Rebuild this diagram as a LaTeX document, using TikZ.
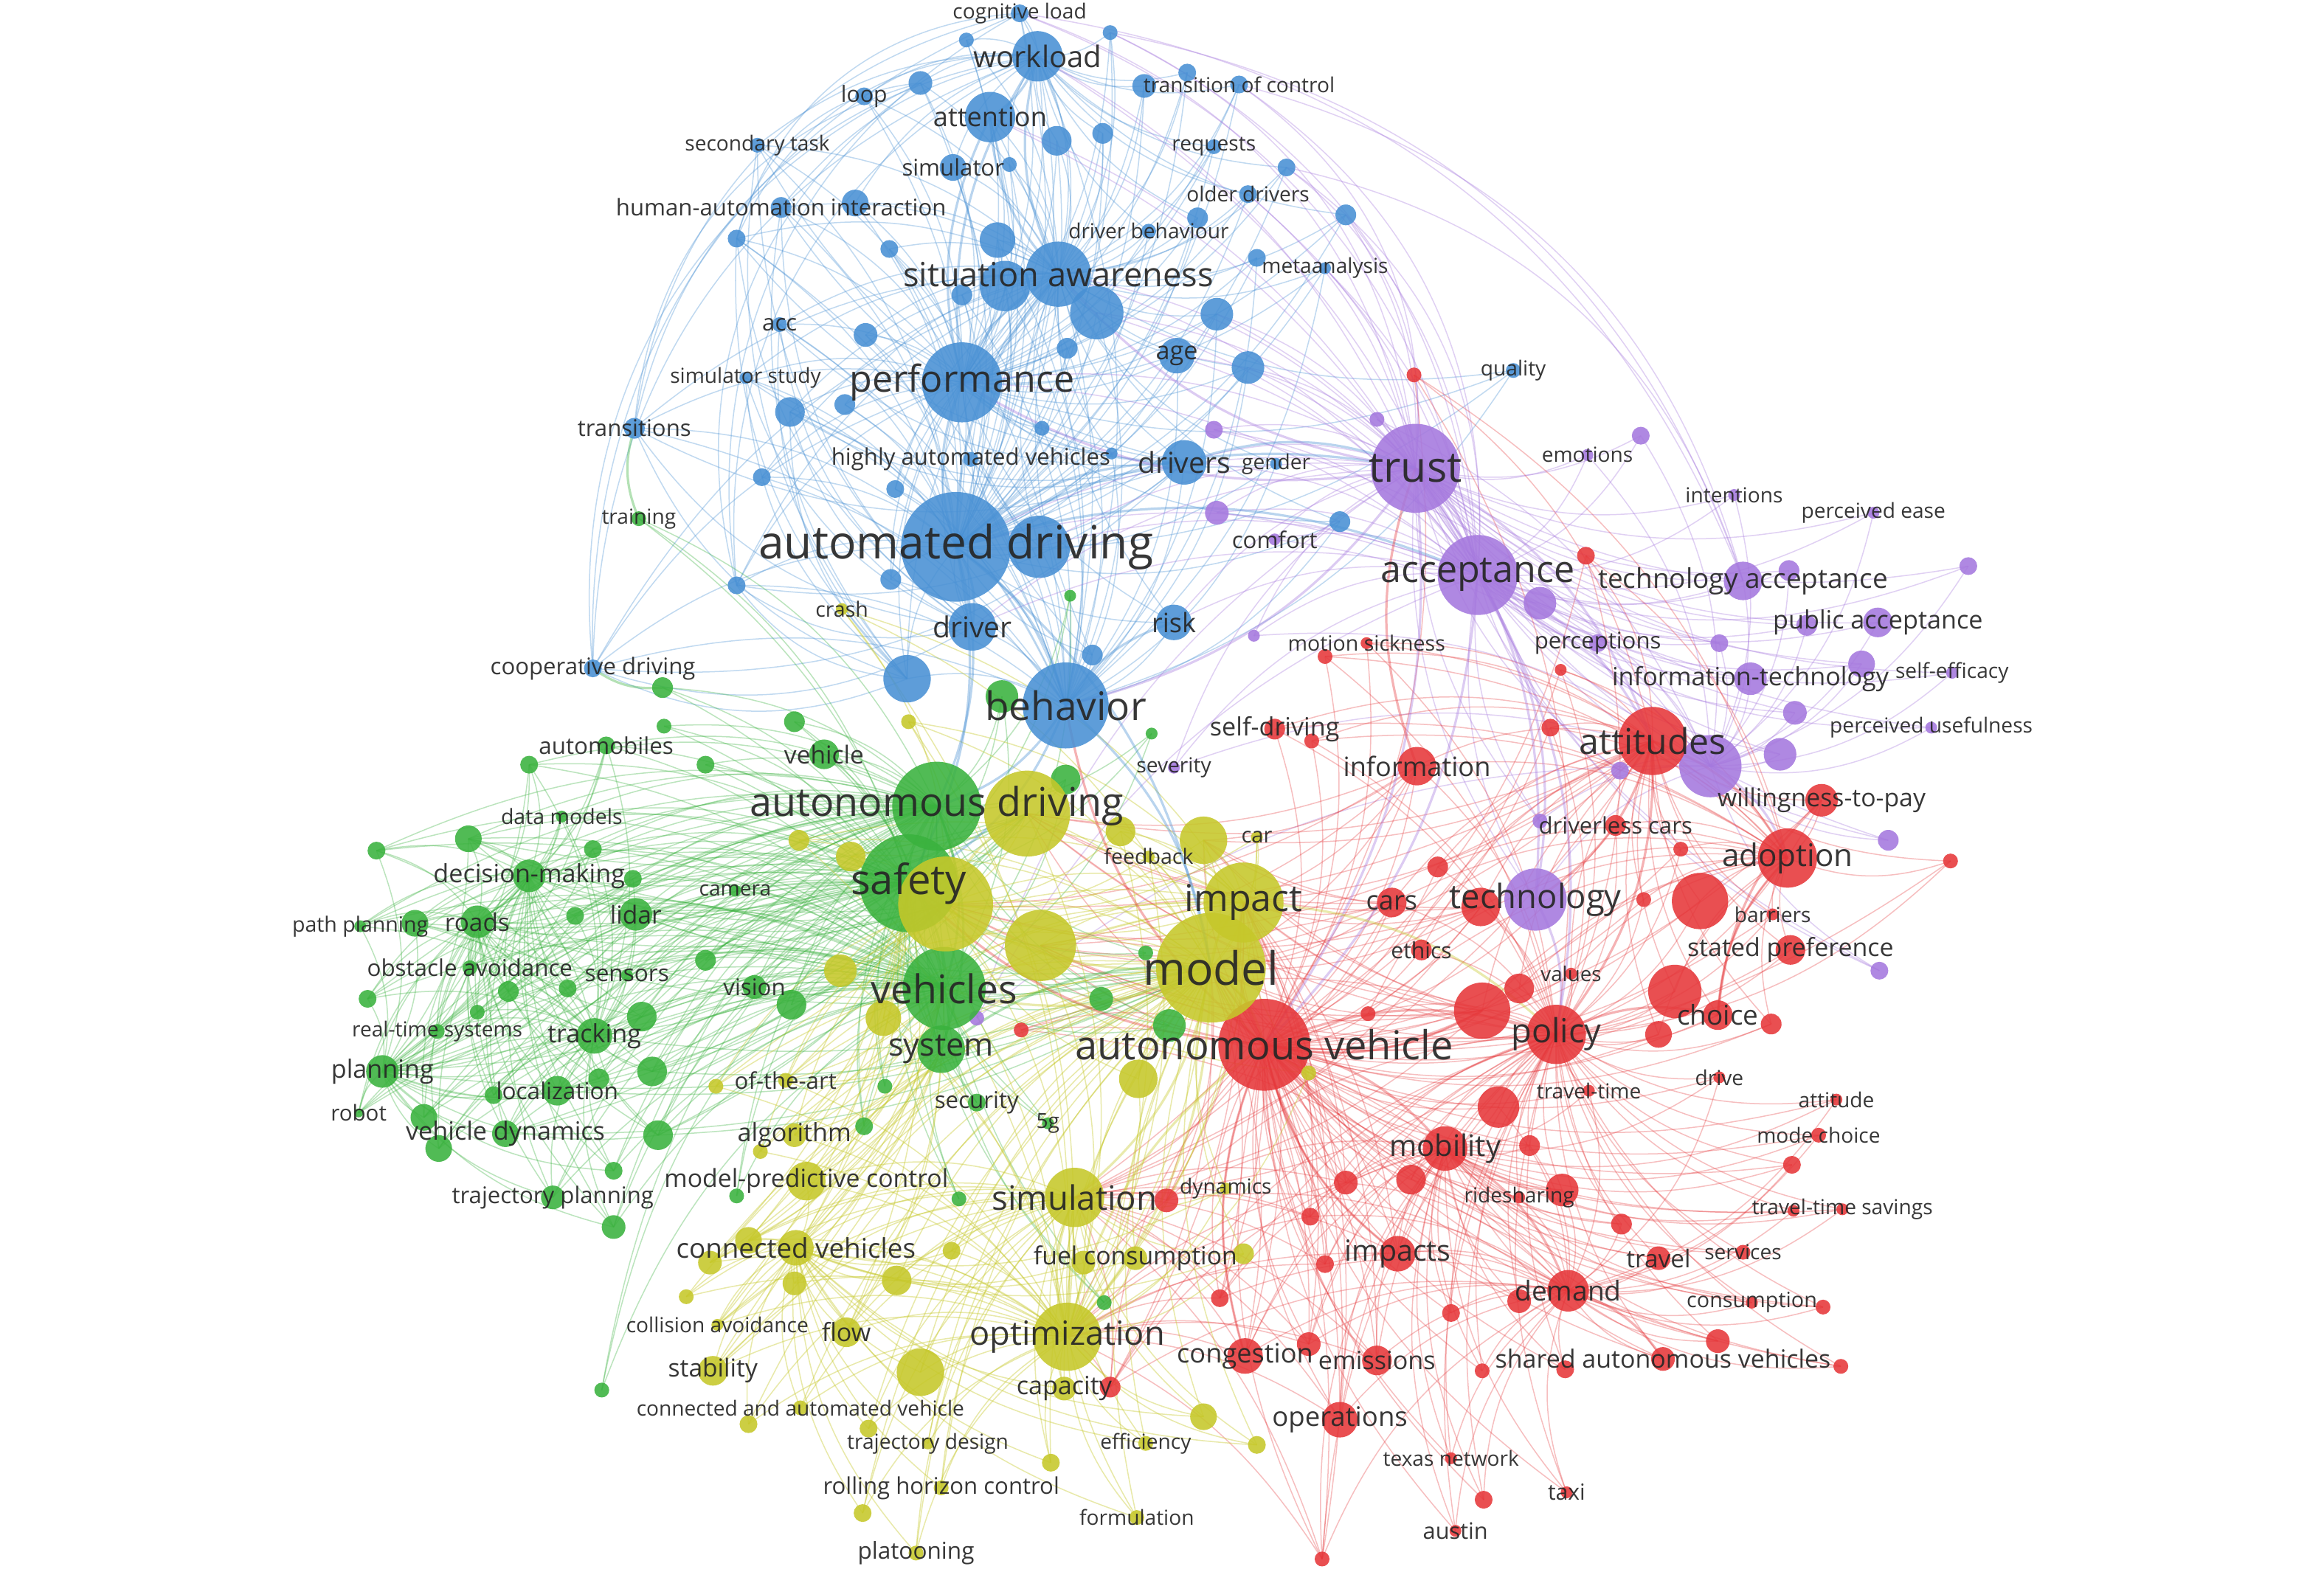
\documentclass[tikz,border=0pt]{standalone}
\usepackage{fontspec}
\setmainfont{Open Sans}
\pgfdeclarelayer{bg}\pgfdeclarelayer{edges}\pgfdeclarelayer{lab}
\pgfsetlayers{bg,edges,main,lab}
\definecolor{cB}{RGB}{72,144,212}
\definecolor{cP}{RGB}{165,120,222}
\definecolor{cR}{RGB}{230,55,58}
\definecolor{cG}{RGB}{58,178,62}
\definecolor{cY}{RGB}{198,200,42}
\definecolor{lbl}{RGB}{38,38,38}
\tikzset{
 kw/.style={circle,inner sep=0pt,draw=none,fill opacity=.88},
 kwl/.style={inner sep=0pt,text=lbl,text opacity=.92},
 eB/.style={draw=cB,draw opacity=.34,line width=.75pt},
 eP/.style={draw=cP,draw opacity=.34,line width=.75pt},
 eR/.style={draw=cR,draw opacity=.32,line width=.75pt},
 eG/.style={draw=cG,draw opacity=.34,line width=.75pt},
 eY/.style={draw=cY,draw opacity=.40,line width=.75pt},
 hub/.style={line width=1.6pt,draw opacity=.38}
}
\newcommand\vn[5]{\node[kw,fill=#5,minimum size={2*#4pt}] (#1) at (#2,#3) {};}
\newcommand\vl[3]{\begin{pgfonlayer}{lab}\node[kwl,font=\fontsize{#2}{#2}\selectfont] (#1lab) at (#1) {#3};\end{pgfonlayer}}
\begin{document}
\begin{tikzpicture}[x=1pt,y=-1pt]
\begin{pgfonlayer}{bg}\fill[white] (0,0) rectangle (1568,1070);\end{pgfonlayer}
\useasboundingbox (0,0) rectangle (1568,1070);
% ---------------- BLUE
\vn{cogload}{688}{9}{6}{cB}
\vn{bA}{652}{27}{5}{cB}
\vn{bB}{749}{22}{5}{cB}
\vn{workload}{700}{38}{17}{cB}
\vn{bC}{621}{56}{8}{cB}
\vn{loop}{583}{65}{6}{cB}
\vn{bD}{801}{49}{6}{cB}
\vn{tcA}{772}{58}{8}{cB}
\vn{tctrl}{836}{57}{6}{cB}
\vn{attention}{668}{79}{17}{cB}
\vn{bE}{713}{95}{10}{cB}
\vn{bF}{744}{90}{7}{cB}
\vn{sectask}{511}{98}{5}{cB}
\vn{requests}{819}{99}{5}{cB}
\vn{simulator}{643}{113}{9}{cB}
\vn{bG}{681}{111}{5}{cB}
\vn{bH}{868}{113}{6}{cB}
\vn{hai}{527}{140}{7}{cB}
\vn{bI}{577}{137}{9}{cB}
\vn{olderdr}{842}{131}{6}{cB}
\vn{bJ}{908}{145}{7}{cB}
\vn{drvbeh}{775}{156}{5}{cB}
\vn{bK}{808}{147}{7}{cB}
\vn{bL}{497}{161}{6}{cB}
\vn{bM}{600}{168}{6}{cB}
\vn{saA}{673}{162}{12}{cB}
\vn{saB}{678}{193}{17}{cB}
\vn{sitaw}{714}{185}{22}{cB}
\vn{saC}{740}{211}{18}{cB}
\vn{bN}{649}{199}{7}{cB}
\vn{bO}{848}{174}{6}{cB}
\vn{meta}{894}{181}{4}{cB}
\vn{bP}{821}{212}{11}{cB}
\vn{acc}{526}{219}{5}{cB}
\vn{bQ}{584}{226}{8}{cB}
\vn{bR}{720}{235}{7}{cB}
\vn{age}{794}{240}{12}{cB}
\vn{bS}{842}{248}{11}{cB}
\vn{perf}{649}{258}{27}{cB}
\vn{simstudy}{503}{255}{4}{cB}
\vn{bT}{533}{278}{10}{cB}
\vn{bU}{570}{273}{7}{cB}
\vn{transitions}{428}{289}{7}{cB}
\vn{bV}{703}{289}{5}{cB}
\vn{hav}{655}{310}{5}{cB}
\vn{bW}{750}{306}{4}{cB}
\vn{drivers}{799}{312}{15}{cB}
\vn{gender}{861}{313}{4}{cB}
\vn{quality}{1021}{250}{5}{cB}
\vn{bY}{514}{322}{6}{cB}
\vn{bZ}{604}{330}{6}{cB}
\vn{autdrv}{645}{369}{37}{cB}
\vn{adB}{701}{369}{21}{cB}
\vn{ba1}{601}{391}{7}{cB}
\vn{ba2}{497}{395}{6}{cB}
\vn{driver}{656}{423}{16}{cB}
\vn{risk}{792}{420}{12}{cB}
\vn{ba3}{737}{442}{7}{cB}
\vn{coopdr}{400}{451}{6}{cB}
\vn{ba4}{612}{458}{16}{cB}
\vn{behavior}{719}{476}{29}{cB}
\vn{ba5}{904}{352}{7}{cB}
% ---------------- PURPLE
\vn{trust}{955}{316}{30}{cP}
\vn{acceptance}{997}{388}{27}{cP}
\vn{technology}{1036}{607}{21}{cP}
\vn{pA}{929}{283}{5}{cP}
\vn{pB}{819}{290}{6}{cP}
\vn{emotions}{1071}{307}{4}{cP}
\vn{pC}{1107}{294}{6}{cP}
\vn{pD}{821}{346}{8}{cP}
\vn{comfort}{860}{364}{4}{cP}
\vn{intentions}{1170}{334}{4}{cP}
\vn{percease}{1264}{346}{4}{cP}
\vn{pE}{1039}{407}{11}{cP}
\vn{techacc}{1176}{392}{13}{cP}
\vn{pF}{1207}{385}{7}{cP}
\vn{pG}{1328}{382}{6}{cP}
\vn{pubacc}{1267}{420}{10}{cP}
\vn{pH}{1219}{422}{7}{cP}
\vn{pI}{846}{429}{4}{cP}
\vn{perceptions}{1078}{434}{6}{cP}
\vn{pJ}{1160}{434}{6}{cP}
\vn{infotech}{1181}{458}{11}{cP}
\vn{pK}{1256}{448}{9}{cP}
\vn{selfeff}{1317}{454}{4}{cP}
\vn{pL}{1211}{481}{8}{cP}
\vn{percuse}{1303}{491}{4}{cP}
\vn{pM}{1201}{509}{11}{cP}
\vn{attP}{1154}{517}{21}{cP}
\vn{pN}{1093}{520}{6}{cP}
\vn{severity}{792}{518}{4}{cP}
\vn{pO}{1039}{554}{5}{cP}
\vn{pP}{1274}{567}{7}{cP}
\vn{pQ}{1268}{655}{6}{cP}
\vn{pR}{659}{687}{5}{cP}
% ---------------- RED
\vn{rq}{954}{253}{5}{cR}
\vn{rA}{1070}{375}{6}{cR}
\vn{motsick}{922}{434}{4}{cR}
\vn{rmot}{894}{443}{5}{cR}
\vn{rB}{1053}{452}{4}{cR}
\vn{selfdrv}{860}{492}{7}{cR}
\vn{rC}{885}{500}{5}{cR}
\vn{rD}{1046}{491}{6}{cR}
\vn{attitudes}{1115}{500}{23}{cR}
\vn{information}{956}{517}{13}{cR}
\vn{wtp}{1229}{540}{11}{cR}
\vn{drvless}{1090}{557}{7}{cR}
\vn{rE}{1134}{573}{5}{cR}
\vn{rF}{970}{585}{7}{cR}
\vn{adoption}{1206}{579}{20}{cR}
\vn{rG}{1316}{581}{5}{cR}
\vn{cars}{939}{609}{10}{cR}
\vn{techR}{999}{612}{13}{cR}
\vn{rH}{1109}{607}{5}{cR}
\vn{rI}{1147}{608}{19}{cR}
\vn{barriers}{1196}{617}{4}{cR}
\vn{ethics}{959}{641}{7}{cR}
\vn{statedpref}{1208}{641}{10}{cR}
\vn{values}{1060}{657}{4}{cR}
\vn{rJ}{1025}{667}{10}{cR}
\vn{rK}{1000}{682}{19}{cR}
\vn{policy}{1050}{698}{20}{cR}
\vn{rL}{1130}{669}{18}{cR}
\vn{choice}{1159}{685}{10}{cR}
\vn{rM}{1119}{698}{9}{cR}
\vn{rN}{1195}{691}{7}{cR}
\vn{rO}{923}{684}{5}{cR}
\vn{autveh}{853}{705}{31}{cR}
\vn{rP}{689}{695}{5}{cR}
\vn{travtime}{1072}{736}{4}{cR}
\vn{drive}{1160}{727}{4}{cR}
\vn{attitude}{1239}{742}{4}{cR}
\vn{rQ}{1011}{747}{14}{cR}
\vn{mobility}{975}{775}{15}{cR}
\vn{rR}{1032}{773}{7}{cR}
\vn{modechoice}{1227}{766}{5}{cR}
\vn{rS}{1209}{786}{6}{cR}
\vn{rT}{952}{796}{10}{cR}
\vn{rU}{908}{798}{8}{cR}
\vn{rV}{787}{810}{8}{cR}
\vn{ridesharing}{1025}{808}{4}{cR}
\vn{rc}{1054}{803}{11}{cR}
\vn{rW}{1094}{826}{7}{cR}
\vn{tts}{1243}{816}{4}{cR}
\vn{rb}{1210}{817}{4}{cR}
\vn{rX}{884}{821}{6}{cR}
\vn{travel}{1119}{849}{8}{cR}
\vn{services}{1176}{845}{5}{cR}
\vn{impacts}{943}{846}{12}{cR}
\vn{rY}{894}{853}{6}{cR}
\vn{demand}{1058}{871}{14}{cR}
\vn{rZ}{1025}{878}{8}{cR}
\vn{consumption}{1182}{879}{4}{cR}
\vn{ra1}{1230}{882}{5}{cR}
\vn{ra2}{823}{876}{6}{cR}
\vn{ra3}{979}{886}{6}{cR}
\vn{ra4}{1159}{905}{8}{cR}
\vn{congestion}{840}{915}{12}{cR}
\vn{ra5}{883}{907}{8}{cR}
\vn{emissions}{929}{918}{10}{cR}
\vn{sav}{1122}{917}{8}{cR}
\vn{ra6}{1056}{924}{6}{cR}
\vn{ra7}{1000}{925}{5}{cR}
\vn{ra8}{1242}{922}{5}{cR}
\vn{capR}{749}{936}{7}{cR}
\vn{operations}{904}{958}{12}{cR}
\vn{texas}{979}{984}{4}{cR}
\vn{ra9}{1001}{1012}{6}{cR}
\vn{taxi}{1057}{1007}{4}{cR}
\vn{austin}{982}{1033}{4}{cR}
\vn{ra10}{892}{1052}{5}{cR}
% ---------------- GREEN
\vn{training}{431}{350}{5}{cG}
\vn{ga1}{722}{402}{4}{cG}
\vn{ga2}{447}{464}{7}{cG}
\vn{ga3}{676}{470}{11}{cG}
\vn{ga4}{536}{487}{7}{cG}
\vn{ga5}{448}{490}{5}{cG}
\vn{ga6}{777}{495}{4}{cG}
\vn{automobiles}{409}{503}{6}{cG}
\vn{vehicle}{556}{509}{10}{cG}
\vn{ga7}{357}{516}{6}{cG}
\vn{ga8}{476}{516}{6}{cG}
\vn{ga9}{719}{526}{10}{cG}
\vn{autdriving}{632}{544}{30}{cG}
\vn{datamodels}{379}{551}{4}{cG}
\vn{ga10}{316}{566}{9}{cG}
\vn{ga11}{254}{574}{6}{cG}
\vn{ga12}{400}{573}{6}{cG}
\vn{decmak}{357}{591}{11}{cG}
\vn{ga13}{427}{593}{6}{cG}
\vn{camera}{496}{601}{4}{cG}
\vn{safety}{613}{596}{33}{cG}
\vn{pathpl}{243}{625}{4}{cG}
\vn{ga14}{280}{623}{9}{cG}
\vn{roads}{322}{622}{11}{cG}
\vn{ga15}{388}{618}{6}{cG}
\vn{lidar}{429}{617}{11}{cG}
\vn{ga16}{476}{648}{7}{cG}
\vn{ga17}{773}{643}{5}{cG}
\vn{obstav}{317}{653}{5}{cG}
\vn{sensors}{423}{658}{4}{cG}
\vn{ga18}{248}{674}{6}{cG}
\vn{ga19}{343}{669}{7}{cG}
\vn{ga20}{383}{667}{6}{cG}
\vn{vision}{509}{666}{8}{cG}
\vn{vehicles}{637}{667}{28}{cG}
\vn{ga21}{743}{674}{8}{cG}
\vn{ga22}{534}{678}{10}{cG}
\vn{ga23}{322}{683}{5}{cG}
\vn{ga24}{433}{686}{10}{cG}
\vn{rts}{295}{696}{5}{cG}
\vn{tracking}{401}{699}{12}{cG}
\vn{ga25}{789}{692}{11}{cG}
\vn{system}{635}{708}{16}{cG}
\vn{planning}{258}{723}{11}{cG}
\vn{ga26}{440}{723}{10}{cG}
\vn{ga27}{404}{728}{7}{cG}
\vn{localization}{376}{736}{10}{cG}
\vn{ga28}{333}{739}{6}{cG}
\vn{ga29}{597}{733}{5}{cG}
\vn{security}{659}{744}{6}{cG}
\vn{robot}{242}{751}{3}{cG}
\vn{vdyn}{341}{765}{9}{cG}
\vn{ga30}{286}{754}{9}{cG}
\vn{ga31}{296}{775}{9}{cG}
\vn{ga32}{444}{766}{10}{cG}
\vn{ga33}{583}{760}{6}{cG}
\vn{g5g}{707}{758}{4}{cG}
\vn{ga34}{414}{790}{6}{cG}
\vn{ga35}{497}{807}{5}{cG}
\vn{trajpl}{373}{808}{8}{cG}
\vn{ga36}{647}{809}{5}{cG}
\vn{ga37}{414}{828}{8}{cG}
\vn{ga38}{745}{879}{5}{cG}
\vn{ga39}{406}{938}{5}{cG}
% ---------------- YELLOW
\vn{crash}{568}{411}{4}{cY}
\vn{ya1}{613}{487}{5}{cY}
\vn{autdY}{693}{549}{29}{cY}
\vn{ya2}{539}{567}{7}{cY}
\vn{ya3}{574}{578}{10}{cY}
\vn{ya4}{756}{561}{10}{cY}
\vn{ya5}{812}{567}{16}{cY}
\vn{car}{848}{565}{4}{cY}
\vn{feedback}{775}{578}{4}{cY}
\vn{safY}{638}{610}{32}{cY}
\vn{ya6}{702}{638}{24}{cY}
\vn{impact}{839}{609}{27}{cY}
\vn{ya7}{567}{655}{11}{cY}
\vn{model}{817}{653}{37}{cY}
\vn{ya8}{596}{687}{12}{cY}
\vn{ofart}{530}{729}{5}{cY}
\vn{ya9}{483}{733}{5}{cY}
\vn{ya10}{768}{728}{13}{cY}
\vn{ya11}{883}{724}{5}{cY}
\vn{algorithm}{536}{766}{8}{cY}
\vn{ya12}{513}{777}{5}{cY}
\vn{mpc}{544}{797}{13}{cY}
\vn{simulation}{725}{808}{20}{cY}
\vn{dynamics}{827}{802}{4}{cY}
\vn{cv}{537}{842}{12}{cY}
\vn{ya13}{505}{837}{9}{cY}
\vn{ya14}{479}{852}{8}{cY}
\vn{ya15}{642}{844}{6}{cY}
\vn{ya16}{536}{866}{8}{cY}
\vn{ya17}{605}{864}{10}{cY}
\vn{fuelc}{766}{849}{8}{cY}
\vn{ya18}{731}{852}{8}{cY}
\vn{ya19}{839}{846}{7}{cY}
\vn{ya20}{463}{875}{5}{cY}
\vn{collav}{484}{894}{4}{cY}
\vn{flow}{571}{899}{10}{cY}
\vn{optim}{720}{902}{23}{cY}
\vn{ya21}{621}{926}{16}{cY}
\vn{stability}{481}{925}{10}{cY}
\vn{capacity}{718}{937}{8}{cY}
\vn{cav}{540}{950}{5}{cY}
\vn{ya22}{812}{956}{9}{cY}
\vn{ya23}{505}{961}{6}{cY}
\vn{ya24}{586}{964}{6}{cY}
\vn{ya25}{848}{975}{6}{cY}
\vn{trajdes}{626}{974}{4}{cY}
\vn{efficiency}{773}{974}{5}{cY}
\vn{ya26}{709}{987}{6}{cY}
\vn{rhc}{635}{1004}{5}{cY}
\vn{ya27}{582}{1021}{6}{cY}
\vn{formulation}{767}{1024}{5}{cY}
\vn{platooning}{618}{1048}{5}{cY}
% ---------------- EDGES
\begin{pgfonlayer}{edges}
\foreach \m in {cogload,bA,bB,bC,loop,bD,tcA,tctrl,bE,bF,sectask,requests,simulator,bG,bH,olderdr,bJ,hai,bI,drvbeh,bK}
  \foreach \h in {workload,sitaw,perf,autdrv}
    \draw[eB] (\m.center) to[bend left=20] (\h.center);
\foreach \m in {bL,bM,saA,saB,saC,bN,bO,meta,bP,acc,bQ,bR,age,bS,simstudy,bT,bU,transitions,bV,hav,bW,gender,quality,bY,bZ,adB,ba1,ba2,driver,risk,ba3,coopdr,ba4,ba5,drivers,workload,attention}
  \foreach \h in {autdrv,perf,sitaw,behavior}
    \draw[eB] (\m.center) to[bend left=20] (\h.center);
\foreach \m in {transitions,coopdr,ba2,hai,sectask,bL,acc,simstudy,bT}
  \foreach \h in {driver,ba4,drivers}
    \draw[eB] (\m.center) to[bend right=24] (\h.center);
\foreach \m in {transitions,coopdr,bL,ba2}
  \foreach \h in {workload,cogload,bC}
    \draw[eB] (\m.center) to[bend left=35] (\h.center);
\foreach \m in {pA,pB,emotions,pC,pD,comfort,intentions,percease,pE,techacc,pF,pG,pubacc,pH,pI,perceptions,pJ,infotech,pK,selfeff,pL,percuse,pM,pN,severity,pO,pP,pQ,pR,technology}
  \foreach \h in {trust,acceptance,attP}
    \draw[eP] (\m.center) to[bend left=20] (\h.center);
\foreach \m in {trust,acceptance}
  \foreach \h in {sitaw,perf,workload,attention,saC,bP,age,bS,drivers,risk,autdrv,adB,driver,meta,olderdr,bJ}
    \draw[eP] (\m.center) to[bend right=18] (\h.center);
\foreach \m in {trust,acceptance,techacc}
  \foreach \h in {cogload,bB,tctrl,bH}
    \draw[eP] (\m.center) to[bend right=30] (\h.center);
\foreach \m in {rq,rA,motsick,rmot,rB,selfdrv,rC,rD,information,wtp,drvless,rE,rF,rG,cars,techR,rH,rI,barriers,ethics,statedpref,values,rJ,rK,rL,choice,rM,rN,rO}
  \foreach \h in {autveh,attitudes,policy,adoption}
    \draw[eR] (\m.center) to[bend left=20] (\h.center);
\foreach \m in {rP,travtime,drive,attitude,rQ,rR,modechoice,rS,rT,rU,rV,ridesharing,rc,rW,tts,rb,rX,travel,services,impacts,rY,rZ,consumption,ra1,ra2,ra3,ra4,congestion,ra5,emissions,sav,ra6,ra7,ra8,capR,operations,texas,ra9,taxi,austin,ra10}
  \foreach \h in {autveh,policy,demand,mobility}
    \draw[eR] (\m.center) to[bend left=20] (\h.center);
\foreach \m in {congestion,emissions,operations,capR,rV,ra2,impacts,rX,rU,ra5,rY,ra10}
  \foreach \h in {optim,simulation,model,impact}
    \draw[eR] (\m.center) to[bend right=16] (\h.center);
\foreach \m in {autveh,policy,rK,cars,techR,information,attitudes}
  \foreach \h in {model,impact,safY,autdY,simulation,ya5,ya6}
    \draw[eR] (\m.center) to[bend left=16] (\h.center);
\foreach \m in {training,ga1,ga2,ga3,ga4,ga5,ga6,automobiles,vehicle,ga7,ga8,ga9,datamodels,ga10,ga11,ga12,decmak,ga13,camera,pathpl,ga14,roads,ga15,lidar,ga16,ga17,obstav,sensors,ga18,ga19,ga20,vision,ga21,ga22,ga23,ga24,rts,tracking,ga25,system,planning,ga26,ga27,localization,ga28,ga29,security,robot,vdyn,ga30,ga31,ga32,ga33,g5g,ga34,ga35,trajpl,ga36,ga37,ga38,ga39}
  \foreach \h in {autdriving,safety,vehicles}
    \draw[eG] (\m.center) to[bend left=20] (\h.center);
\foreach \m in {ga7,ga10,ga11,ga12,datamodels,ga13,pathpl,ga14,ga15,lidar,obstav,sensors,ga18,ga19,ga20,ga23,ga24,rts,ga26,ga27,localization,ga28,robot,vdyn,ga30,ga31,ga32,ga34,trajpl,ga37,automobiles}
  \foreach \h in {roads,planning,decmak,tracking}
    \draw[eG] (\m.center) to[bend left=20] (\h.center);
\foreach \m in {ga10,decmak,roads,lidar,ga14,planning,tracking,vdyn,ga32,ga26,localization}
  \foreach \h in {safY,autdY,model}
    \draw[eG] (\m.center) to[bend right=14] (\h.center);
\foreach \m in {crash,ya1,autdY,ya2,ya3,ya4,ya5,car,feedback,safY,ya6,ya7,ya8,ofart,ya9,ya10,ya11,algorithm,ya12,impact}
  \foreach \h in {model,impact,safY,optim}
    \draw[eY] (\m.center) to[bend left=20] (\h.center);
\foreach \m in {mpc,dynamics,cv,ya13,ya14,ya15,ya16,ya17,fuelc,ya18,ya19,ya20,collav,flow,ya21,stability,capacity,cav,ya22,ya23,ya24,ya25,trajdes,efficiency,ya26,rhc,ya27,formulation,platooning}
  \foreach \h in {model,optim,simulation,cv}
    \draw[eY] (\m.center) to[bend left=20] (\h.center);
\foreach \m in {mpc,cv,ya13,ya14,stability,flow,collav,algorithm,ofart}
  \foreach \h in {safety,vehicles,system}
    \draw[eY] (\m.center) to[bend right=16] (\h.center);
\foreach \a/\b in {autdrv/perf,autdrv/sitaw,autdrv/behavior,autdrv/driver,autdrv/drivers,autdrv/trust,autdrv/acceptance,autdrv/autdriving,autdrv/safety,autdrv/model,perf/sitaw,perf/workload,perf/attention,sitaw/workload,sitaw/attention,workload/attention,behavior/safety,behavior/model,behavior/autdriving,behavior/risk,drivers/trust}
  \draw[eB,hub] (\a.center) to[bend left=20] (\b.center);
\foreach \a/\b in {trust/acceptance,trust/attitudes,trust/technology,trust/autveh,trust/behavior,acceptance/attitudes,acceptance/technology,acceptance/policy,acceptance/autveh,attP/adoption,technology/policy,trust/sitaw,trust/perf}
  \draw[eP,hub] (\a.center) to[bend left=20] (\b.center);
\foreach \a/\b in {attitudes/adoption,attitudes/policy,attitudes/technology,autveh/policy,autveh/mobility,autveh/impact,autveh/safety,policy/choice,choice/adoption,choice/wtp,mobility/demand,demand/sav,impacts/autveh,congestion/autveh,rK/autveh,information/trust,autveh/behavior}
  \draw[eR,hub] (\a.center) to[bend left=20] (\b.center);
\foreach \a/\b in {model/impact,model/safety,model/simulation,model/optim,model/autveh,impact/policy,safY/autdY,optim/simulation,optim/autveh,model/vehicles}
  \draw[eY,hub] (\a.center) to[bend left=20] (\b.center);
\foreach \a/\b in {safety/vehicles,safety/autdriving,autdriving/vehicles,autdriving/system,vehicles/system,system/model,training/transitions,ga2/coopdr}
  \draw[eG,hub] (\a.center) to[bend left=20] (\b.center);
\end{pgfonlayer}
% ---------------- LABELS
\vl{cogload}{14}{cognitive load}
\vl{workload}{20}{workload}
\vl{loop}{15}{loop}
\vl{tctrl}{14}{transition of control}
\vl{attention}{18}{attention}
\vl{sectask}{14}{secondary task}
\vl{requests}{14}{requests}
\vl{simulator}{15.5}{simulator}
\vl{hai}{15.5}{human-automation interaction}
\vl{olderdr}{14}{older drivers}
\vl{drvbeh}{14}{driver behaviour}
\vl{sitaw}{22.5}{situation awareness}
\vl{meta}{14}{metaanalysis}
\vl{acc}{15.5}{acc}
\vl{age}{17}{age}
\vl{perf}{25}{performance}
\vl{simstudy}{14}{simulator study}
\vl{transitions}{15.5}{transitions}
\vl{hav}{15.5}{highly automated vehicles}
\vl{drivers}{19.5}{drivers}
\vl{gender}{14}{gender}
\vl{quality}{14}{quality}
\vl{autdrv}{31}{automated driving}
\vl{driver}{19.5}{driver}
\vl{risk}{18}{risk}
\vl{coopdr}{15.5}{cooperative driving}
\vl{behavior}{26.5}{behavior}
\vl{trust}{28.5}{trust}
\vl{emotions}{14}{emotions}
\vl{comfort}{15.5}{comfort}
\vl{intentions}{14}{intentions}
\vl{percease}{14}{perceived ease}
\vl{acceptance}{25}{acceptance}
\vl{techacc}{18.4}{technology acceptance}
\vl{pubacc}{17}{public acceptance}
\vl{perceptions}{15.5}{perceptions}
\vl{infotech}{17}{information-technology}
\vl{selfeff}{14}{self-efficacy}
\vl{percuse}{14}{perceived usefulness}
\vl{severity}{14}{severity}
\vl{motsick}{14.2}{motion sickness}
\vl{selfdrv}{17}{self-driving}
\vl{attitudes}{24}{attitudes}
\vl{information}{18}{information}
\vl{wtp}{16.8}{willingness-to-pay}
\vl{drvless}{15.5}{driverless cars}
\vl{adoption}{21}{adoption}
\vl{cars}{18}{cars}
\vl{technology}{22.6}{technology}
\vl{barriers}{14}{barriers}
\vl{ethics}{15}{ethics}
\vl{statedpref}{16.9}{stated preference}
\vl{values}{13.8}{values}
\vl{policy}{22.5}{policy}
\vl{choice}{18.4}{choice}
\vl{autveh}{27}{autonomous vehicle}
\vl{travtime}{14}{travel-time}
\vl{drive}{14}{drive}
\vl{attitude}{14}{attitude}
\vl{mobility}{20}{mobility}
\vl{modechoice}{14}{mode choice}
\vl{ridesharing}{14}{ridesharing}
\vl{tts}{14}{travel-time savings}
\vl{travel}{16.6}{travel}
\vl{services}{14}{services}
\vl{impacts}{19.6}{impacts}
\vl{demand}{18.5}{demand}
\vl{consumption}{14.3}{consumption}
\vl{congestion}{18}{congestion}
\vl{emissions}{17}{emissions}
\vl{sav}{16.9}{shared autonomous vehicles}
\vl{operations}{18.2}{operations}
\vl{texas}{14}{texas network}
\vl{taxi}{15}{taxi}
\vl{austin}{15.3}{austin}
\vl{training}{14}{training}
\vl{automobiles}{15.6}{automobiles}
\vl{vehicle}{16.7}{vehicle}
\vl{autdriving}{26.8}{autonomous driving}
\vl{datamodels}{14.2}{data models}
\vl{decmak}{17}{decision-making}
\vl{camera}{14}{camera}
\vl{safety}{28}{safety}
\vl{pathpl}{14.2}{path planning}
\vl{roads}{16.6}{roads}
\vl{lidar}{16.7}{lidar}
\vl{obstav}{15.6}{obstacle avoidance}
\vl{sensors}{15.7}{sensors}
\vl{vision}{15.5}{vision}
\vl{vehicles}{26.7}{vehicles}
\vl{rts}{14}{real-time systems}
\vl{tracking}{17}{tracking}
\vl{system}{21.5}{system}
\vl{planning}{17}{planning}
\vl{localization}{15.7}{localization}
\vl{security}{15.6}{security}
\vl{robot}{14.7}{robot}
\vl{vdyn}{17}{vehicle dynamics}
\vl{g5g}{14}{5g}
\vl{trajpl}{15.5}{trajectory planning}
\vl{crash}{14.2}{crash}
\vl{car}{14.5}{car}
\vl{feedback}{14.2}{feedback}
\vl{impact}{25}{impact}
\vl{model}{31}{model}
\vl{ofart}{15.5}{of-the-art}
\vl{algorithm}{17}{algorithm}
\vl{mpc}{16.8}{model-predictive control}
\vl{simulation}{22.7}{simulation}
\vl{dynamics}{14}{dynamics}
\vl{cv}{18.3}{connected vehicles}
\vl{fuelc}{16.8}{fuel consumption}
\vl{collav}{14}{collision avoidance}
\vl{flow}{17}{flow}
\vl{optim}{22.5}{optimization}
\vl{stability}{16.7}{stability}
\vl{capacity}{17}{capacity}
\vl{cav}{14}{connected and automated vehicle}
\vl{trajdes}{14}{trajectory design}
\vl{efficiency}{14}{efficiency}
\vl{rhc}{15.5}{rolling horizon control}
\vl{formulation}{14}{formulation}
\vl{platooning}{15.7}{platooning}
\end{tikzpicture}
\end{document}
